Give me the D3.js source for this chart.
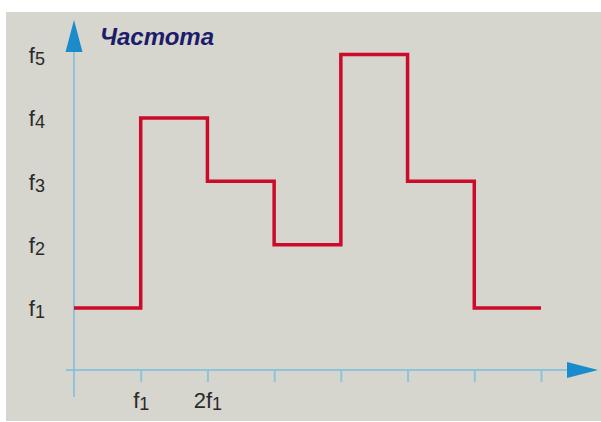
<!DOCTYPE html>
<html><head><meta charset="utf-8">
<script src="https://cdn.jsdelivr.net/npm/d3@7/dist/d3.min.js"></script>
<style>body{margin:0;background:#fff}svg{display:block}</style>
</head><body>
<script>
// Data
const stepIndex = [0, 1, 2, 3, 4, 5, 6, 7];
const levels = [1, 4, 3, 2, 5, 3, 1, 1];
const yTickValues = [1, 2, 3, 4, 5];
const yTickLabels = [["f","1"],["f","2"],["f","3"],["f","4"],["f","5"]];
const xTickValues = [1, 2, 3, 4, 5, 6, 7];
const xTickLabels = [["","f","1"],["2","f","1"],null,null,null,null,null];
const title = "Частота";

const W = 601, H = 422;
const svg = d3.select("body").append("svg").attr("width", W).attr("height", H);
svg.append("rect").attr("x", 6).attr("y", 12).attr("width", 595).attr("height", 409).attr("fill", "#d6d5ce");

const x = d3.scaleLinear().domain([0, 7]).range([74, 541]);
const y = d3.scaleLinear().domain([1, 5]).range([308, 54.5]);
const axisY0 = 370;

const axisColor = "#8fc3dc", arrowColor = "#1a8ccc";

// x axis ticks
const xAxis = d3.axisBottom(x).tickValues(xTickValues).tickSize(12).tickPadding(8).tickFormat(() => "");
const gx = svg.append("g").attr("transform", `translate(0,${axisY0})`).call(xAxis);
gx.select(".domain").remove();
gx.selectAll(".tick line").attr("stroke", axisColor).attr("stroke-width", 2);
gx.selectAll(".tick text").each(function(d, i) {
  const lab = xTickLabels[i];
  const t = d3.select(this).attr("font-family", "Liberation Sans, Arial, sans-serif").attr("fill", "#2a2a2a")
    .attr("font-size", 22).attr("dy", "0.71em").attr("y", 22);
  if (!lab) return;
  t.append("tspan").text(lab[0] + lab[1]);
  t.append("tspan").text(lab[2]).attr("font-size", 18).attr("dy", 2);
});

// y axis labels
const yAxis = d3.axisLeft(y).tickValues(yTickValues).tickSize(0).tickPadding(29).tickFormat(() => "");
const gy = svg.append("g").attr("transform", `translate(${x(0)},0)`).call(yAxis);
gy.select(".domain").remove();
gy.selectAll(".tick text").each(function(d, i) {
  const lab = yTickLabels[i];
  const t = d3.select(this).attr("font-family", "Liberation Sans, Arial, sans-serif").attr("fill", "#2a2a2a")
    .attr("font-size", 22).attr("dy", "0.36em");
  t.append("tspan").text(lab[0]);
  t.append("tspan").text(lab[1]).attr("font-size", 18).attr("dy", 2);
});

// axis lines
svg.append("line").attr("x1", x(0)).attr("x2", 572).attr("y1", axisY0).attr("y2", axisY0)
  .attr("stroke", axisColor).attr("stroke-width", 2);
svg.append("line").attr("x1", x(0)).attr("x2", x(0)).attr("y1", 397).attr("y2", 48)
  .attr("stroke", axisColor).attr("stroke-width", 2);
svg.append("line").attr("x1", 66).attr("x2", x(0)).attr("y1", axisY0).attr("y2", axisY0)
  .attr("stroke", axisColor).attr("stroke-width", 2);
// arrowheads
svg.append("path").attr("d", `M${x(0)-8.5},52 L${x(0)},20 L${x(0)+8.5},52 Z`).attr("fill", arrowColor);
svg.append("path").attr("d", `M567,${axisY0-8} L598,${axisY0} L567,${axisY0+8} Z`).attr("fill", arrowColor);

// step line
const line = d3.line().x((d, i) => x(stepIndex[i])).y(d => y(d)).curve(d3.curveStepAfter);
svg.append("path").datum(levels).attr("d", line).attr("fill", "none")
  .attr("stroke", "#cc0a2a").attr("stroke-width", 3.5).attr("stroke-linejoin", "miter");

// title
svg.append("text").attr("x", 100).attr("y", 45).text(title)
  .attr("font-family", "Liberation Sans, Arial, sans-serif").attr("font-weight", "bold").attr("font-style", "italic")
  .attr("font-size", 24).attr("fill", "#1c1c6a");
</script>
</body></html>
